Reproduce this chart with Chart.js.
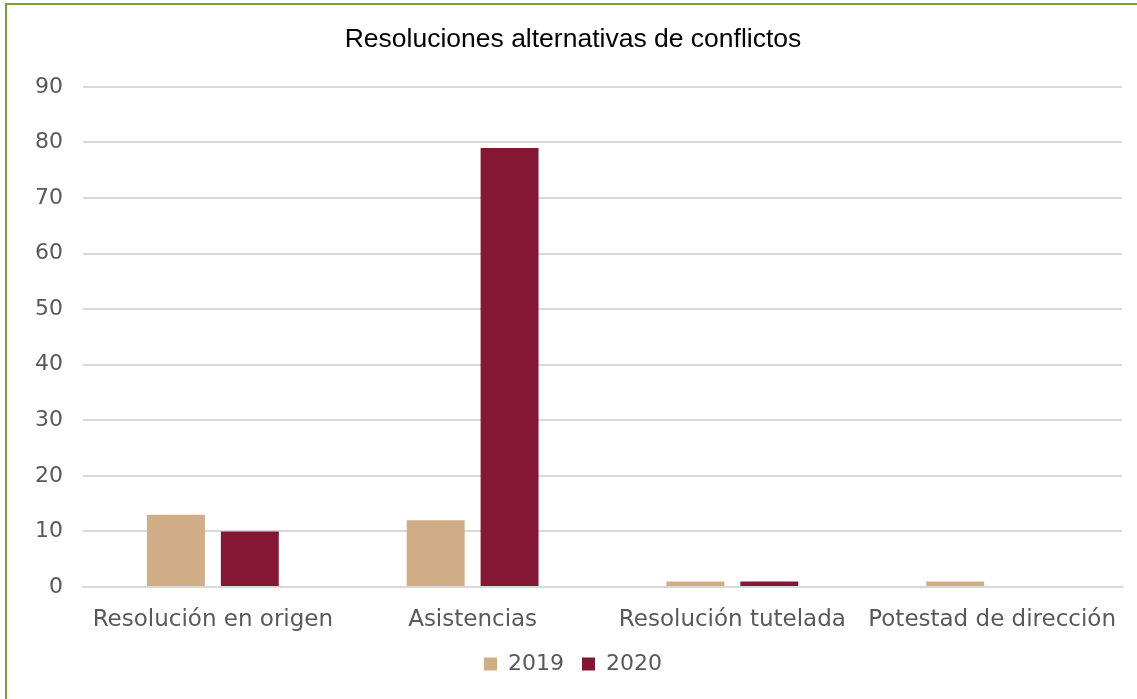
<!DOCTYPE html>
<html>
<head>
<meta charset="utf-8">
<script src="https://cdn.jsdelivr.net/npm/chart.js@4"></script>
<style>
  html, body { margin: 0; padding: 0; background: #fff; overflow: hidden; }
  #frame { position: absolute; left: 5px; top: 3px; width: 1200px; height: 800px; border: 2px solid #78A22F; box-sizing: border-box; }
  #wrap { position: absolute; left: 0; top: 0; width: 1137px; height: 699px; }
</style>
</head>
<body>
<div id="frame"></div>
<div id="wrap"><canvas id="chart" width="1137" height="699"></canvas></div>
<script>
// Chart data
const categories = ['Resolución en origen', 'Asistencias', 'Resolución tutelada', 'Potestad de dirección'];
const values2019 = [13, 12, 1, 1];
const values2020 = [10, 79, 1, 0];
const yTicks = [0, 10, 20, 30, 40, 50, 60, 70, 80, 90];

const tickFont = { family: "'DejaVu Sans', sans-serif", size: 22 };
const grey = '#595959';

const ctx = document.getElementById('chart');
new Chart(ctx, {
    type: 'bar',
    data: {
        labels: categories,
        datasets: [
            { label: '2019', data: values2019, backgroundColor: '#D0AD86' },
            { label: '2020', data: values2020, backgroundColor: '#841733' }
        ]
    },
    options: {
        responsive: false,
        animation: false,
        layout: { padding: { left: 24, right: 15, top: 0, bottom: 14 } },
        datasets: {
            bar: { categoryPercentage: 0.569, barPercentage: 0.784 }
        },
        plugins: {
            title: {
                display: true,
                text: 'Resoluciones alternativas de conflictos',
                color: '#000',
                font: { family: "'Liberation Sans', Arial, sans-serif", size: 26.5, weight: 'normal' },
                padding: { top: 24, bottom: 31 }
            },
            legend: {
                position: 'bottom',
                labels: {
                    color: grey,
                    font: tickFont,
                    boxWidth: 13,
                    boxHeight: 13,
                    padding: 18
                }
            },
            tooltip: { enabled: false }
        },
        scales: {
            x: {
                grid: { display: false },
                border: { color: '#d9d9d9', width: 2 },
                ticks: { color: grey, font: { family: tickFont.family, size: 23 }, padding: 11, maxRotation: 0, autoSkip: false },
                afterFit: (scale) => { scale.height = 48; }
            },
            y: {
                min: 0,
                max: 90,
                afterBuildTicks: (scale) => { scale.ticks = yTicks.map(v => ({ value: v })); },
                grid: { color: '#d9d9d9', lineWidth: 2, drawTicks: false },
                border: { display: false },
                ticks: { color: grey, font: tickFont, padding: 20 },
                afterFit: (scale) => { scale.width = 59; }
            }
        }
    }
});
</script>
</body>
</html>
